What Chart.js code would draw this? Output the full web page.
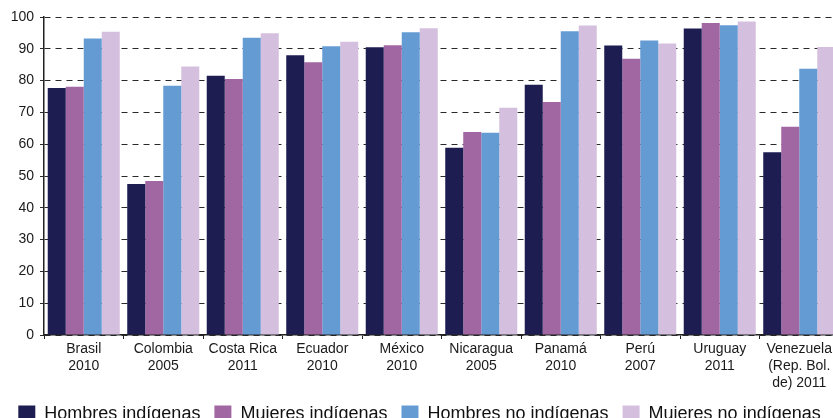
<!DOCTYPE html>
<html>
<head>
<meta charset="utf-8">
<script src="https://cdn.jsdelivr.net/npm/chart.js@4/dist/chart.umd.min.js"></script>
<style>
  html, body { margin: 0; padding: 0; background: #fff; overflow: hidden; }
  canvas { display: block; }
</style>
</head>
<body>
<canvas id="grafico" width="840" height="433"></canvas>
<script>
// Países y año del censo (etiquetas de varias líneas)
const paises = [
    ['Brasil', '2010'],
    ['Colombia', '2005'],
    ['Costa Rica', '2011'],
    ['Ecuador', '2010'],
    ['México', '2010'],
    ['Nicaragua', '2005'],
    ['Panamá', '2010'],
    ['Perú', '2007'],
    ['Uruguay', '2011'],
    ['Venezuela', '(Rep. Bol.', 'de) 2011']
];

// Porcentajes por grupo
const hombresIndigenas = [77.7, 47.5, 81.5, 88.0, 90.5, 58.9, 78.7, 91.0, 96.4, 57.5];
const mujeresIndigenas = [78.1, 48.4, 80.5, 85.8, 91.1, 63.8, 73.3, 86.9, 98.1, 65.5];
const hombresNoIndigenas = [93.2, 78.4, 93.5, 90.8, 95.2, 63.6, 95.5, 92.6, 97.4, 83.7];
const mujeresNoIndigenas = [95.4, 84.4, 94.9, 92.2, 96.5, 71.5, 97.3, 91.7, 98.6, 90.6];

const ticksY = [0, 10, 20, 30, 40, 50, 60, 70, 80, 90, 100];

Chart.defaults.font.family = '"Liberation Sans", Arial, sans-serif';
Chart.defaults.color = '#1a1a1a';

const ctx = document.getElementById('grafico').getContext('2d');
new Chart(ctx, {
    type: 'bar',
    data: {
        labels: paises,
        datasets: [
            { label: 'Hombres indígenas', data: hombresIndigenas, backgroundColor: '#1e1d52' },
            { label: 'Mujeres indígenas', data: mujeresIndigenas, backgroundColor: '#a067a3' },
            { label: 'Hombres no indígenas', data: hombresNoIndigenas, backgroundColor: '#659bd3' },
            { label: 'Mujeres no indígenas', data: mujeresNoIndigenas, backgroundColor: '#d4c0de' }
        ]
    },
    options: {
        responsive: false,
        animation: false,
        devicePixelRatio: 1,
        categoryPercentage: 0.906,
        barPercentage: 1.0,
        layout: { padding: { top: 17, right: 1, left: 0, bottom: 0 } },
        plugins: {
            tooltip: { enabled: false },
            legend: {
                position: 'bottom',
                labels: {
                    boxWidth: 17,
                    boxHeight: 17,
                    padding: 14,
                    color: '#111',
                    font: { size: 18 }
                }
            }
        },
        scales: {
            x: {
                grid: {
                    offset: true,
                    drawOnChartArea: false,
                    drawTicks: true,
                    tickLength: 4,
                    color: '#222'
                },
                border: { display: true, color: '#222', width: 1.5 },
                ticks: {
                    maxRotation: 0,
                    autoSkip: false,
                    padding: 2,
                    color: '#1a1a1a',
                    font: { size: 14, lineHeight: 1.2 }
                },
                afterFit: scale => { scale.height = 56; }
            },
            y: {
                min: 0,
                max: 100,
                afterBuildTicks: scale => {
                    scale.ticks = ticksY.map(v => ({ value: v }));
                },
                grid: {
                    color: '#2a2a2a',
                    lineWidth: 1,
                    drawTicks: true,
                    tickLength: 4
                },
                border: { display: true, color: '#222', width: 1.5, dash: [6, 5] },
                ticks: {
                    padding: 6,
                    color: '#1a1a1a',
                    font: { size: 14 }
                },
                afterFit: scale => { scale.width = 44; }
            }
        }
    }
});
</script>
</body>
</html>
